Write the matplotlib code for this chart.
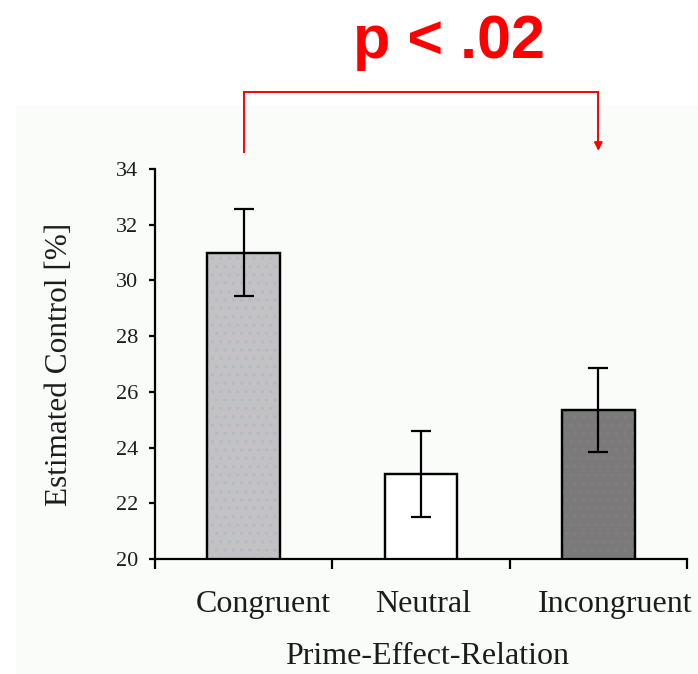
import matplotlib.pyplot as plt
from matplotlib.patches import Rectangle
from matplotlib.transforms import ScaledTranslation
import numpy as np

# data
categories = ['Congruent', 'Neutral', 'Incongruent']
means = [31.0, 23.05, 25.35]
errors = [1.55, 1.55, 1.5]
colors = ['#c3c1c4', '#ffffff', '#7b7a7b']
y_ticks = [20, 22, 24, 26, 28, 30, 32, 34]

serif = 'Liberation Serif'
text_col = '#1c1c1c'

fig = plt.figure(figsize=(6.98, 6.74), dpi=100)

# light panel behind the chart
fig.patches.append(Rectangle((16 / 698, 0), 1, 1 - 105 / 674, transform=fig.transFigure,
                             facecolor='#fafcfa', edgecolor='none', zorder=-5))

ax = fig.add_axes([155 / 698, 1 - 559 / 674, 532 / 698, 390 / 674])
ax.set_facecolor('none')

x = np.arange(len(categories))
bars = ax.bar(x, means, width=0.41, color=colors, edgecolor='black', linewidth=1.6, zorder=2)
# faint stipple on the filled bars
ax.bar(x[[0, 2]], np.array(means)[[0, 2]], width=0.41, bottom=0, color='none',
       edgecolor=['#aabcc8', '#8a7a80'], linewidth=0, hatch='..', zorder=2.5)
ax.bar(x, means, width=0.41, color='none', edgecolor='black', linewidth=1.6, zorder=3)
ax.errorbar(x, means, yerr=errors, fmt='none', ecolor='black', elinewidth=1.6,
            capsize=7, capthick=1.6, zorder=4)

ax.set_ylim(20, 34)
ax.set_xlim(-0.5, 2.5)
ax.set_yticks(y_ticks)
ax.set_yticklabels([str(t) for t in y_ticks], family=serif, fontsize=16, color=text_col)

# category separators as major ticks, names as minor ticks
ax.set_xticks([-0.5, 0.5, 1.5, 2.5])
ax.set_xticklabels([])
ax.set_xticks(x, minor=True)
labels = ax.set_xticklabels(categories, minor=True, family=serif, fontsize=23, color=text_col)
ax.tick_params(axis='x', which='major', direction='out', length=7, width=1.6)
ax.tick_params(axis='x', which='minor', length=0, pad=22)
ax.tick_params(axis='y', direction='out', length=4, width=1.6, pad=8)

# the original names sit a little right of the bar centres
for lab, dx in zip(labels, [20, 2, 17]):
    lab.set_transform(lab.get_transform() + ScaledTranslation(dx / 100, 0, fig.dpi_scale_trans))

for s in ['top', 'right']:
    ax.spines[s].set_visible(False)
for s in ['left', 'bottom']:
    ax.spines[s].set_linewidth(1.6)

xl = ax.set_xlabel('Prime-Effect-Relation', family=serif, fontsize=23, color=text_col, labelpad=17)
ax.set_ylabel('Estimated Control [%]', family=serif, fontsize=22.5, color=text_col, labelpad=30)
xl.set_transform(xl.get_transform() + ScaledTranslation(0.06, 0, fig.dpi_scale_trans))

# significance bracket
ax.plot([0, 0, 2, 2], [34.6, 36.75, 36.75, 34.8], color='red', lw=1.4,
        clip_on=False, solid_joinstyle='miter')
ax.annotate('', xy=(2, 34.55), xytext=(2, 35.0), annotation_clip=False,
            arrowprops=dict(arrowstyle='-|>', color='red', lw=1.4, mutation_scale=12))
fig.text(449 / 698, 1 - 58 / 674, 'p < .02', color='red', fontsize=44,
         fontweight='bold', family='Liberation Sans', ha='center', va='baseline')

fig.savefig('out.png', dpi=100)
